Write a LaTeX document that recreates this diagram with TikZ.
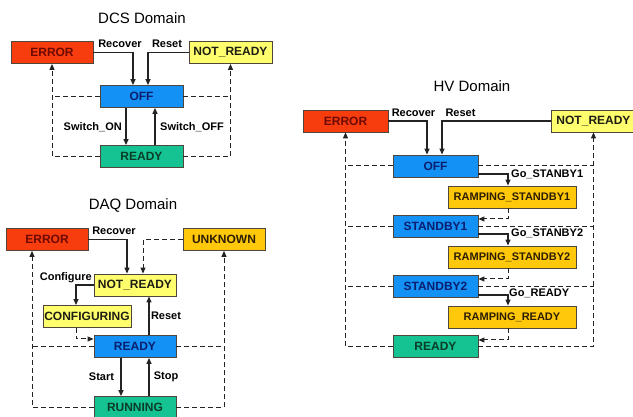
\documentclass[tikz,border=0pt]{standalone}
\usepackage{fontspec}
\setmainfont{Liberation Sans}
\usetikzlibrary{arrows.meta}
\definecolor{errF}{RGB}{247,60,14}
\definecolor{errT}{RGB}{110,10,0}
\definecolor{nrF}{RGB}{255,255,110}
\definecolor{nrT}{RGB}{30,30,20}
\definecolor{offF}{RGB}{20,145,245}
\definecolor{offT}{RGB}{10,30,110}
\definecolor{rdyF}{RGB}{20,195,145}
\definecolor{rdyT}{RGB}{10,60,40}
\definecolor{ambF}{RGB}{255,200,10}
\definecolor{ambT}{RGB}{45,30,0}
\definecolor{boxline}{RGB}{80,70,60}
\definecolor{lineC}{RGB}{35,35,35}
\begin{document}
\begin{tikzpicture}[x=1pt,y=-1pt,
  box/.style={draw=boxline, line width=0.8pt, minimum height=22pt, minimum width=83pt, inner sep=0pt, font=\fontsize{12}{14}\selectfont\bfseries},
  errbox/.style={box, fill=errF, text=errT},
  nrbox/.style={box, fill=nrF, text=nrT},
  offbox/.style={box, fill=offF, text=offT},
  rdybox/.style={box, fill=rdyF, text=rdyT},
  ambbox/.style={box, fill=ambF, text=ambT},
  rampbox/.style={ambbox, minimum width=128pt, font=\fontsize{11}{13}\selectfont\bfseries},
  arr/.style={draw=lineC, line width=1.2pt, -{Triangle[length=6pt,width=5pt]}},
  dsh/.style={draw=lineC, line width=1pt, dash pattern=on 5pt off 3pt},
  dsha/.style={dsh, -{Triangle[length=6pt,width=5pt]}},
  lbl/.style={font=\fontsize{11}{13}\selectfont\bfseries, inner sep=0pt},
  ttl/.style={font=\fontsize{15}{17}\selectfont, inner sep=0pt}]
\clip (0,0) rectangle (633,417);
\fill[white] (0,0) rectangle (633,417);

% ---------------- DCS ----------------
\node[ttl] (dT) at (142,18) {DCS Domain};
\node[errbox, minimum width=82pt] (dErr) at (52,52.5) {ERROR};
\node[nrbox] (dNR) at (230.5,52.5) {NOT\_READY};
\node[offbox] (dOff) at (141.5,96.5) {OFF};
\node[rdybox] (dRdy) at (141.5,156.5) {READY};
\draw[arr] (dErr.east) -| ([xshift=-8.5pt]dOff.north);
\draw[arr] (dNR.west) -| ([xshift=6.5pt]dOff.north);
\draw[arr] ([xshift=-15.5pt]dOff.south) -- ([xshift=-15.5pt]dRdy.north);
\draw[arr] ([xshift=13.5pt]dRdy.north) -- ([xshift=13.5pt]dOff.south);
\draw[dsh] (dOff.west) -- (dOff.west -| dErr.south);
\draw[dsha] (dRdy.west) -| (dErr.south);
\draw[dsh] (dOff.east) -- (dOff.east -| dNR.south);
\draw[dsha] (dRdy.east) -| (dNR.south);
\node[lbl] (dL1) at (120,44) {Recover};
\node[lbl] (dL2) at (167,44) {Reset};
\node[lbl, anchor=east] (dL3) at (122,127) {Switch\_ON};
\node[lbl, anchor=west] (dL4) at (160,127) {Switch\_OFF};

% ---------------- DAQ ----------------
\node[ttl] (qT) at (133,205) {DAQ Domain};
\node[errbox, minimum width=82pt] (qErr) at (47,239.5) {ERROR};
\node[ambbox, minimum width=82pt] (qUnk) at (224,239.5) {UNKNOWN};
\node[nrbox, minimum width=82pt] (qNR) at (135,285) {NOT\_READY};
\node[nrbox, minimum width=88pt] (qCfg) at (87,316.5) {CONFIGURING};
\node[offbox, minimum width=82pt] (qRdy) at (135,346.5) {READY};
\node[rdybox, minimum width=82pt] (qRun) at (135,407.5) {RUNNING};
\coordinate (qErrB) at ([xshift=-15pt]qErr.south);
\draw[arr] (qErr.east) -| ([xshift=-8pt]qNR.north);
\draw[dsha] (qUnk.west) -| ([xshift=8pt]qNR.north);
\draw[arr] (qNR.west) -| ([xshift=-11pt]qCfg.north);
\draw[dsha] ([xshift=-11pt]qCfg.south) |- ([yshift=7.5pt]qRdy.west);
\draw[arr] ([xshift=14pt]qRdy.north) -- ([xshift=14pt]qNR.south);
\draw[arr] ([xshift=-14pt]qRdy.south) -- ([xshift=-14pt]qRun.north);
\draw[arr] ([xshift=14pt]qRun.north) -- ([xshift=14pt]qRdy.south);
\draw[dsh] (qRdy.west) -- (qRdy.west -| qErrB);
\draw[dsha] (qRun.west) -| (qErrB);
\draw[dsh] (qRdy.east) -- (qRdy.east -| qUnk.south);
\draw[dsha] (qRun.east) -| (qUnk.south);
\node[lbl] (qL1) at (114,231) {Recover};
\node[lbl, anchor=east] (qL2) at (92,278) {Configure};
\node[lbl] (qL3) at (166,316) {Reset};
\node[lbl] (qL4) at (101.5,377) {Start};
\node[lbl] (qL5) at (166,377) {Stop};

% ---------------- HV ----------------
\node[ttl] (hT) at (472,86) {HV Domain};
\node[errbox, minimum width=85pt] (hErr) at (345.5,121) {ERROR};
\node[nrbox, minimum width=85pt] (hNR) at (593.5,121) {NOT\_READY};
\node[offbox, minimum width=85pt] (hOff) at (435.5,166) {OFF};
\node[rampbox] (hR1) at (512,197) {RAMPING\_STANDBY1};
\node[offbox, minimum width=85pt] (hS1) at (435.5,226.5) {STANDBY1};
\node[rampbox] (hR2) at (512,257) {RAMPING\_STANDBY2};
\node[offbox, minimum width=85pt] (hS2) at (435.5,286.5) {STANDBY2};
\node[rampbox] (hRR) at (512,317) {RAMPING\_READY};
\node[rdybox, minimum width=85pt] (hRdy) at (435.5,346.5) {READY};
\draw[arr] (hErr.east) -| ([xshift=-8.5pt]hOff.north);
\draw[arr] (hNR.west) -| ([xshift=6.5pt]hOff.north);
\draw[arr] ([yshift=-8pt]hOff.east) -| ([xshift=-4pt]hR1.north);
\draw[dsha] ([xshift=-4pt]hR1.south) |- ([yshift=7.5pt]hS1.east);
\draw[arr] ([yshift=-7.5pt]hS1.east) -| ([xshift=-4pt]hR2.north);
\draw[dsha] ([xshift=-4pt]hR2.south) |- ([yshift=7.5pt]hS2.east);
\draw[arr] ([yshift=-8.5pt]hS2.east) -| ([xshift=-4pt]hRR.north);
\draw[dsha] ([xshift=-4pt]hRR.south) |- ([yshift=6.5pt]hRdy.east);
\draw[dsh] (hOff.west) -- (hOff.west -| hErr.south);
\draw[dsh] (hS1.west) -- (hS1.west -| hErr.south);
\draw[dsh] (hS2.west) -- (hS2.west -| hErr.south);
\draw[dsha] (hRdy.west) -| (hErr.south);
\draw[dsh] (hOff.east) -- (hOff.east -| hNR.south);
\draw[dsh] (hS1.east) -- (hS1.east -| hNR.south);
\draw[dsh] (hS2.east) -- (hS2.east -| hNR.south);
\draw[dsha] (hRdy.east) -| (hNR.south);
\node[lbl] (hL1) at (413.5,113) {Recover};
\node[lbl] (hL2) at (460.5,113) {Reset};
\node[lbl, anchor=west] (hL3) at (511,174) {Go\_STANBY1};
\node[lbl, anchor=west] (hL4) at (511,233.5) {Go\_STANBY2};
\node[lbl, anchor=west] (hL5) at (509,293) {Go\_READY};
\end{tikzpicture}
\end{document}
